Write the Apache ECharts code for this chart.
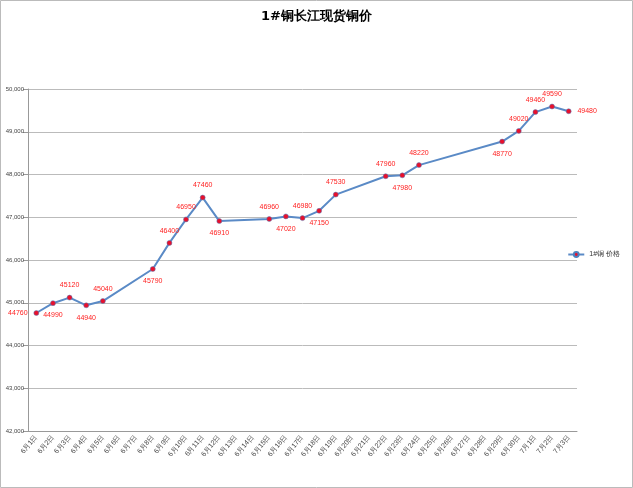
<!DOCTYPE html><html><head><meta charset="utf-8"><script src="https://cdn.jsdelivr.net/npm/echarts@6/dist/echarts.min.js"></script></head><body style="margin:0"><div id="c" style="width:633px;height:488px"></div><script>
var categories=[];for(var d=1;d<=30;d++)categories.push('6月'+d+'日');categories.push('7月1日','7月2日','7月3日');
var dates=['6月1日','6月2日','6月3日','6月4日','6月5日','6月8日','6月9日','6月10日','6月11日','6月12日','6月15日','6月16日','6月17日','6月18日','6月19日','6月22日','6月23日','6月24日','6月29日','6月30日','7月1日','7月2日','7月3日'];
var prices=[44760,44990,45120,44940,45040,45790,46400,46950,47460,46910,46960,47020,46980,47150,47530,47960,47980,48220,48770,49020,49460,49590,49480];
var labelPos=['left','bottom','top','bottom','top','bottom','top','top','top','bottom','top','bottom','top','bottom','top','top','bottom','top','bottom','top','top','top','right'];
var yTicks={min:42000,max:50000,interval:1000};
var series=categories.map(function(c){var i=dates.indexOf(c);return i<0?null:{value:prices[i],label:{position:labelPos[i]}};});
var ch=echarts.init(document.getElementById('c'));
ch.setOption({
graphic:[{type:'rect',shape:{x:0.5,y:0.5,width:632,height:487},style:{fill:'none',stroke:'#bbb'}}],
title:{text:'1#铜长江现货铜价',left:'center',top:5,textStyle:{fontSize:13,fontWeight:'bold',color:'#000',fontFamily:'DejaVu Sans'}},
legend:{orient:'vertical',right:8,top:246,itemWidth:16,itemHeight:6,textStyle:{fontSize:7,color:'#333'},data:['1#铜 价格']},
grid:{left:28,right:56,top:89,bottom:57},
xAxis:{type:'category',data:categories,boundaryGap:true,axisLine:{lineStyle:{color:'#999'}},axisTick:{alignWithLabel:false,lineStyle:{color:'#999'}},axisLabel:{rotate:50,fontSize:7,color:'#444',interval:0,margin:5}},
yAxis:{type:'value',min:yTicks.min,max:yTicks.max,interval:yTicks.interval,axisLine:{show:true,lineStyle:{color:'#999'}},axisTick:{show:true,lineStyle:{color:'#999'}},axisLabel:{fontSize:6,color:'#444',margin:4},splitLine:{lineStyle:{color:'#bbb'}}},
series:[{name:'1#铜 价格',type:'line',data:series,connectNulls:true,symbol:'circle',symbolSize:5,itemStyle:{color:'#e8102c',borderColor:'#4f81bd',borderWidth:0.5},lineStyle:{color:'#5a8ac6',width:2},label:{show:true,fontSize:7,color:'#ff2020',distance:6}}]
});
</script></body></html>
